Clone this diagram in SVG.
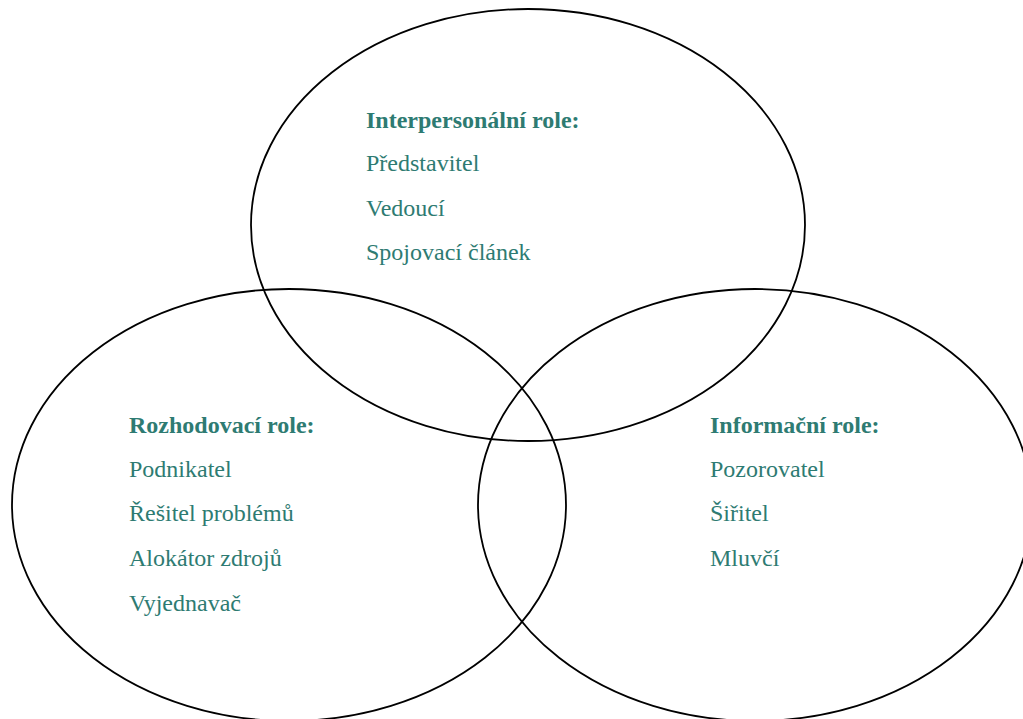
<svg xmlns="http://www.w3.org/2000/svg" width="1023" height="719" viewBox="0 0 1023 719">
<style>
.c{fill:none;stroke:#000;stroke-width:1.8}
.t{font-family:"Liberation Serif","Times New Roman",serif;font-size:24px;fill:#2E7B72}
.b{font-weight:bold}
</style>
<rect width="1023" height="719" fill="#fff"/>
<g id="connectors"></g>
<g id="interpersonal">
<ellipse class="c" cx="528" cy="225" rx="277" ry="216"/>
<text class="t b" x="366" y="128">Interpersonální role:</text>
<text class="t" x="366" y="171">Představitel</text>
<text class="t" x="366" y="216">Vedoucí</text>
<text class="t" x="366" y="260">Spojovací článek</text>
</g>
<g id="decision">
<ellipse class="c" cx="289" cy="505" rx="277" ry="216"/>
<text class="t b" x="129" y="433">Rozhodovací role:</text>
<text class="t" x="129" y="477">Podnikatel</text>
<text class="t" x="129" y="521">Řešitel problémů</text>
<text class="t" x="129" y="566">Alokátor zdrojů</text>
<text class="t" x="129" y="611">Vyjednavač</text>
</g>
<g id="informational">
<ellipse class="c" cx="755" cy="505" rx="277" ry="216"/>
<text class="t b" x="710" y="433">Informační role:</text>
<text class="t" x="710" y="477">Pozorovatel</text>
<text class="t" x="710" y="521">Šiřitel</text>
<text class="t" x="710" y="566">Mluvčí</text>
</g>
</svg>
